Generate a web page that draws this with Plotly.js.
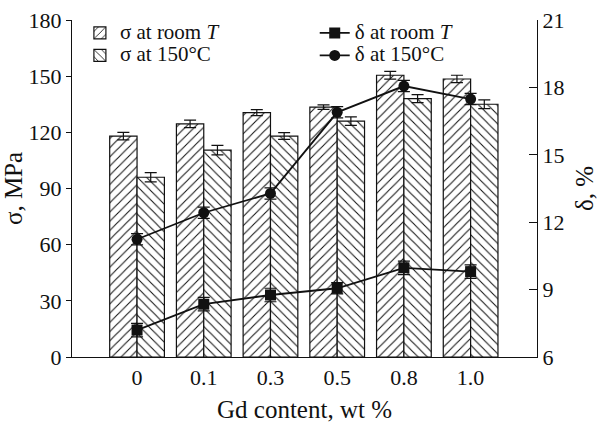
<!DOCTYPE html>
<html>
<head>
<meta charset="utf-8">
<script src="https://cdn.plot.ly/plotly-3.0.1.min.js"></script>
<style>html,body{margin:0;padding:0;background:#fff}#chart{width:600px;height:426px}</style>
</head>
<body>
<div id="chart"></div>
<script>
var categories = ["0", "0.1", "0.3", "0.5", "0.8", "1.0"];
var sigmaRoom = [118, 124.5, 130.5, 133.5, 150.5, 148.5];
var sigmaRoomErr = [2, 2, 1.6, 1.2, 2.1, 2];
var sigma150 = [96, 110.5, 118, 126, 138, 135];
var sigma150Err = [2.5, 2.5, 1.8, 2.3, 2.1, 2.3];
var deltaRoom = [7.2, 8.35, 8.76, 9.06, 9.97, 9.8];
var deltaRoomErr = [0.3, 0.3, 0.3, 0.25, 0.3, 0.3];
var delta150 = [11.24, 12.42, 13.28, 16.89, 18.06, 17.48];
var delta150Err = [0.25, 0.25, 0.25, 0.25, 0.25, 0.25];
var seriesNames = ["σ at room <i>T</i>", "σ at 150°C", "δ at room <i>T</i>", "δ at 150°C"];

var fontFam = "'Liberation Serif'";
var xIdx = categories.map(function(c, i){ return i; });
var big = function(s){ return '<span style="font-size:21px">' + s + '</span>'; };

var barErr = function(arr){ return {type:'data', array:arr, visible:true, color:'#111', thickness:1.2, width:6}; };
var lineErr = function(arr){ return {type:'data', array:arr, visible:true, color:'#111', thickness:1.2, width:6}; };

var traces = [
  {type:'bar', name:big(seriesNames[0]), x:xIdx, y:sigmaRoom, error_y:barErr(sigmaRoomErr),
   marker:{color:'white', line:{color:'#111', width:1.2}, pattern:{shape:'/', fgcolor:'#111', bgcolor:'white', size:6.5, solidity:0.16}},
   legend:'legend'},
  {type:'bar', name:big(seriesNames[1]), x:xIdx, y:sigma150, error_y:barErr(sigma150Err),
   marker:{color:'white', line:{color:'#111', width:1.2}, pattern:{shape:'\\', fgcolor:'#111', bgcolor:'white', size:6.5, solidity:0.16}},
   legend:'legend'},
  {type:'scatter', mode:'lines+markers', name:big(seriesNames[2]), x:xIdx, y:deltaRoom, yaxis:'y2', error_y:lineErr(deltaRoomErr),
   line:{color:'#111', width:1.8}, marker:{symbol:'square', size:11, color:'#111'}, legend:'legend2'},
  {type:'scatter', mode:'lines+markers', name:big(seriesNames[3]), x:xIdx, y:delta150, yaxis:'y2', error_y:lineErr(delta150Err),
   line:{color:'#111', width:1.8}, marker:{symbol:'circle', size:11, color:'#111'}, legend:'legend2'}
];

var layout = {
  width:600, height:426,
  margin:{l:72, r:63, t:20, b:69},
  paper_bgcolor:'white', plot_bgcolor:'white',
  font:{family:fontFam, size:22, color:'#111'},
  barmode:'group', bargap:0.18, bargroupgap:0,
  showlegend:true,
  xaxis:{
    range:[-0.975, 5.995], tickvals:xIdx, ticktext:categories,
    showline:true, linecolor:'#111', linewidth:1.2, ticks:'', showgrid:false, zeroline:false,
    tickfont:{family:fontFam, size:22}, title:{text:'Gd content, wt %', font:{family:fontFam, size:25}, standoff:12}
  },
  yaxis:{
    range:[0,180], dtick:30, showline:true, linecolor:'#111', linewidth:1.2,
    ticks:'outside', ticklen:5, tickcolor:'#111', showgrid:false, zeroline:false,
    tickfont:{family:fontFam, size:22}, title:{text:'σ, MPa', font:{family:fontFam, size:25}, standoff:2}
  },
  yaxis2:{
    range:[6,21], dtick:3, overlaying:'y', side:'right', showline:true, linecolor:'#111', linewidth:1.2,
    ticks:'inside', ticklen:8, tickcolor:'#111', showgrid:false, zeroline:false,
    tickfont:{family:fontFam, size:22}, title:{text:'δ, %', font:{family:fontFam, size:25}, standoff:12}
  },
  legend:{x:0.017, y:1.01, xanchor:'left', yanchor:'top', bgcolor:'rgba(0,0,0,0)', font:{family:fontFam, size:15},
    tracegroupgap:0, itemwidth:30},
  legend2:{x:0.522, y:1.01, xanchor:'left', yanchor:'top', bgcolor:'rgba(0,0,0,0)', font:{family:fontFam, size:15},
    tracegroupgap:0, itemwidth:30}
};

Plotly.newPlot('chart', traces, layout, {displayModeBar:false, staticPlot:true});
</script>
</body>
</html>
